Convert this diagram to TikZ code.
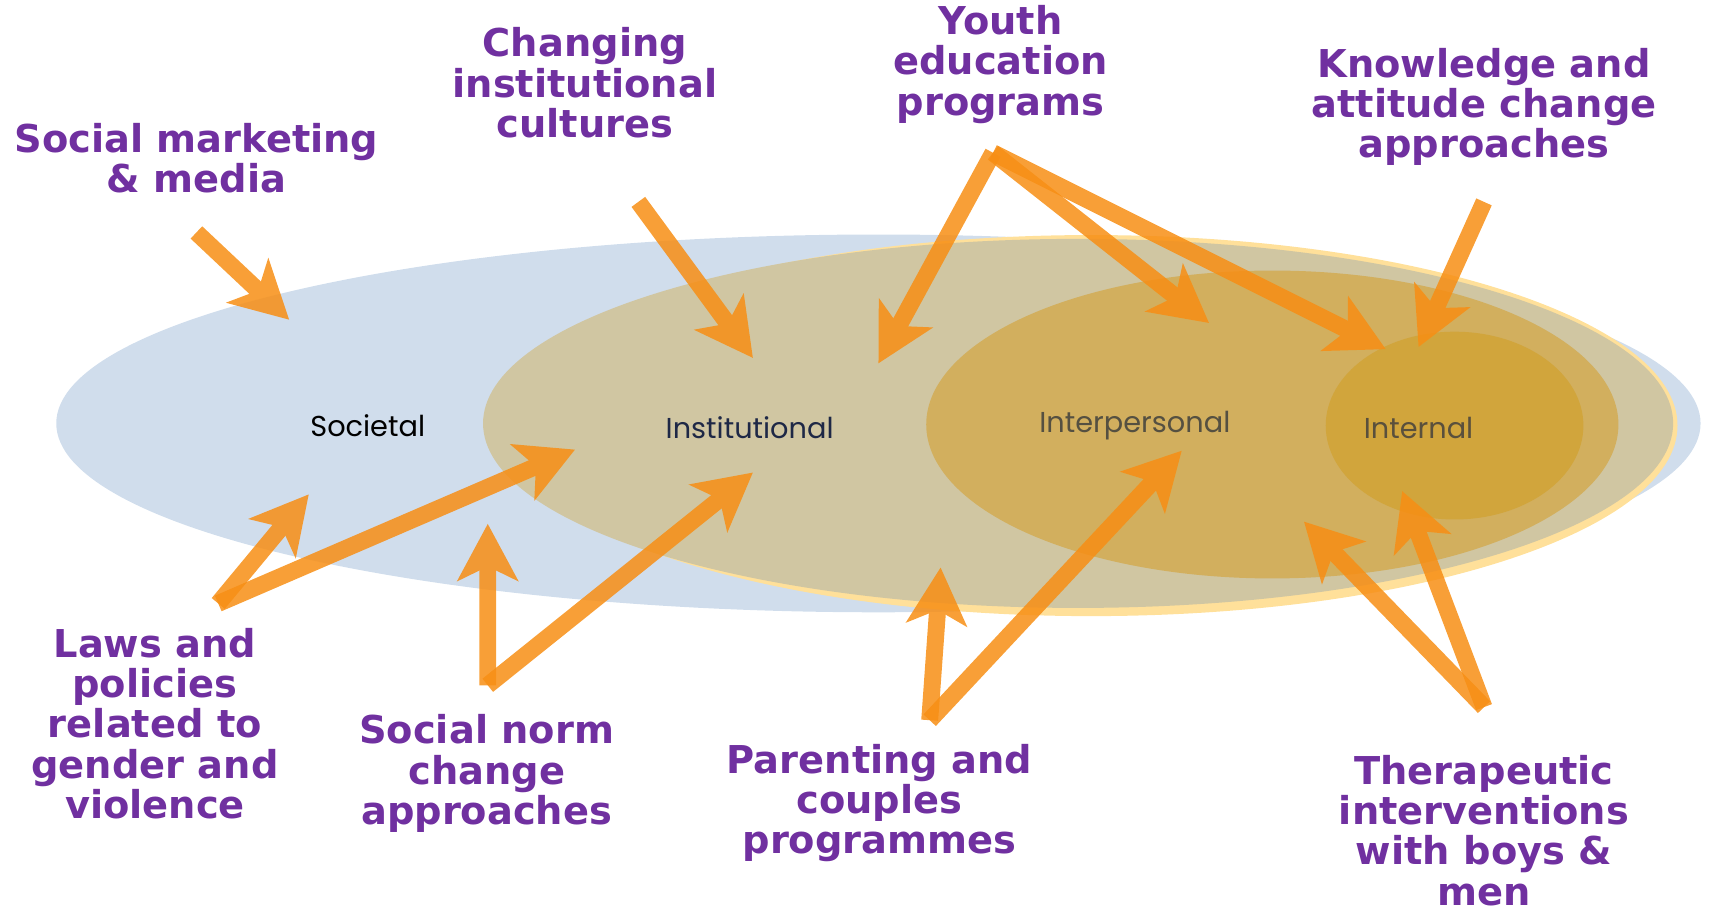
\documentclass[tikz,border=0pt]{standalone}
\usepackage{fontspec}
\usetikzlibrary{arrows.meta}
\newfontfamily\titlefont{DejaVu Sans}
\newfontfamily\levelfont{Poppins}
\definecolor{blueell}{HTML}{D0DDEC}
\definecolor{rimell}{HTML}{FFE09A}
\definecolor{tanell}{HTML}{D0C6A2}
\definecolor{interell}{HTML}{D2AF5E}
\definecolor{innerell}{HTML}{D1A53C}
\definecolor{purp}{HTML}{7030A0}
\definecolor{arrorange}{RGB}{247,142,20}
\begin{document}
\begin{tikzpicture}[x=0.01cm,y=-0.01cm,
  title/.style={font=\titlefont\bfseries\fontsize{10}{10.5}\selectfont, text=purp, align=center, inner sep=0pt},
  level/.style={font=\levelfont\fontsize{7.5}{9}\selectfont, inner sep=0pt},
  arr/.style={line width=0.155cm, draw=arrorange,
    -{Stealth[length=0.52cm,width=0.55cm,inset=0.13cm]}},
  grp/.style={transparency group, opacity=0.85}]
\useasboundingbox (0,0) rectangle (1568,835);
% ellipses
\fill[blueell] (805,388) ellipse [x radius=7.53cm, y radius=1.73cm];
\fill[rimell] (1000,390) ellipse [x radius=5.37cm, y radius=1.745cm];
\fill[tanell] (988,388) ellipse [x radius=5.45cm, y radius=1.69cm];
\fill[interell] (1166,389) ellipse [x radius=3.17cm, y radius=1.41cm];
\fill[innerell] (1333,390) ellipse [x radius=1.18cm, y radius=0.86cm];
% level labels
\node[level, text=black] (soc) at (337,390) {Societal};
\node[level, text={rgb,255:red,30;green,40;blue,70}] (inst) at (687,392) {Institutional};
\node[level, text={rgb,255:red,85;green,80;blue,65}] (interp) at (1040,390) {Interpersonal};
\node[level, text={rgb,255:red,90;green,80;blue,60}] (intern) at (1300,392) {Internal};
% titles
\node[title] (sm) at (180,145) {Social marketing\\\& media};
\node[title] (ci) at (536,76) {Changing\\institutional\\cultures};
\node[title] (ye) at (917,59) {Youth\\education\\programs};
\node[title] (ka) at (1360,98) {Knowledge and\\attitude change\\approaches};
\node[title] (lp) at (142,663) {Laws and\\policies\\related to\\gender and\\violence};
\node[title] (sn) at (446,709) {Social norm\\change\\approaches};
\node[title] (pc) at (806,736) {Parenting and\\couples\\programmes};
\node[title] (th) at (1360,761) {Therapeutic\\interventions\\with boys \&\\men};
% arrow anchor points
\coordinate (smS) at (180,213);  \coordinate (smT) at (265,293);
\coordinate (ciS) at (585,185);  \coordinate (ciT) at (690,328);
\coordinate (yeS) at (910,140);
\coordinate (yeT1) at (805,333); \coordinate (yeT2) at (1108,296); \coordinate (yeT3) at (1270,320);
\coordinate (kaS) at (1360,185); \coordinate (kaT) at (1300,318);
\coordinate (lpS) at (200,553);  \coordinate (lpT1) at (283,453); \coordinate (lpT2) at (527,412);
\coordinate (snS) at (447,628);  \coordinate (snT1) at (447,480); \coordinate (snT2) at (690,433);
\coordinate (pcS) at (852,660);  \coordinate (pcT1) at (862,520); \coordinate (pcT2) at (1083,413);
\coordinate (thS) at (1360,648); \coordinate (thT1) at (1195,478); \coordinate (thT2) at (1285,450);
% arrows
\begin{scope}[grp]\draw[arr] (smS) -- (smT);\end{scope}
\begin{scope}[grp]\draw[arr] (ciS) -- (ciT);\end{scope}
\begin{scope}[grp]\draw[arr] (yeS) -- (yeT1);\end{scope}
\begin{scope}[grp]\draw[arr] (yeS) -- (yeT2);\end{scope}
\begin{scope}[grp]\draw[arr] (yeS) -- (yeT3);\end{scope}
\begin{scope}[grp]\draw[arr] (kaS) -- (kaT);\end{scope}
\begin{scope}[grp]\draw[arr] (lpS) -- (lpT1);\end{scope}
\begin{scope}[grp]\draw[arr] (lpS) -- (lpT2);\end{scope}
\begin{scope}[grp]\draw[arr] (snS) -- (snT1);\end{scope}
\begin{scope}[grp]\draw[arr] (snS) -- (snT2);\end{scope}
\begin{scope}[grp]\draw[arr] (pcS) -- (pcT1);\end{scope}
\begin{scope}[grp]\draw[arr] (pcS) -- (pcT2);\end{scope}
\begin{scope}[grp]\draw[arr] (thS) -- (thT1);\end{scope}
\begin{scope}[grp]\draw[arr] (thS) -- (thT2);\end{scope}
\end{tikzpicture}
\end{document}
